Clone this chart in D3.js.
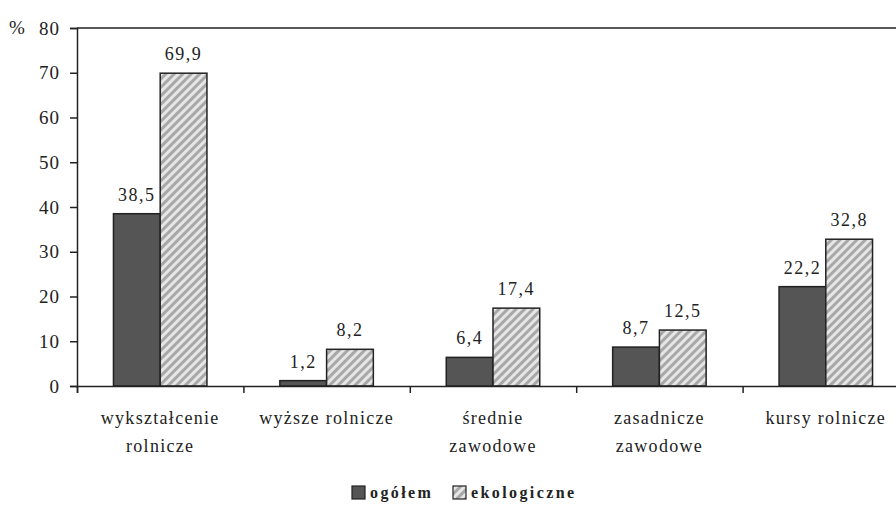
<!DOCTYPE html>
<html>
<head>
<meta charset="utf-8">
<script src="https://cdn.jsdelivr.net/npm/d3@7"></script>
<style>
  body { margin: 0; background: #fff; }
  svg { display: block; }
</style>
</head>
<body>
<svg id="chart"></svg>
<script>
const width = 896, height = 518;
const serif = "'Liberation Serif', 'DejaVu Serif', 'Times New Roman', Times, serif";

const categories = [
    ["wykształcenie", "rolnicze"],
    ["wyższe rolnicze"],
    ["średnie", "zawodowe"],
    ["zasadnicze", "zawodowe"],
    ["kursy rolnicze"]
];
const ogolem = [38.5, 1.2, 6.4, 8.7, 22.2];
const ekologiczne = [69.9, 8.2, 17.4, 12.5, 32.8];
const seriesNames = ["ogółem", "ekologiczne"];
const yTicks = [0, 10, 20, 30, 40, 50, 60, 70, 80];

const margin = {left: 77, top: 28, right: -13, bottom: 132};

const svg = d3.select("#chart")
    .attr("width", width)
    .attr("height", height)
    .style("font-family", serif);

const defs = svg.append("defs");
const pat = defs.append("pattern")
    .attr("id", "hatch")
    .attr("patternUnits", "userSpaceOnUse")
    .attr("width", 6).attr("height", 6)
    .attr("patternTransform", "rotate(45)");
pat.append("rect").attr("width", 6).attr("height", 6).attr("fill", "#e6e6e6");
pat.append("rect").attr("width", 3).attr("height", 6).attr("fill", "#a8a8a8");

const x = d3.scaleBand()
    .domain(d3.range(categories.length))
    .range([margin.left, width - margin.right]);

const inner = d3.scaleBand()
    .domain([0, 1])
    .range([0, x.bandwidth()])
    .paddingOuter(0.78)
    .paddingInner(0);

const y = d3.scaleLinear()
    .domain([0, 80])
    .range([height - margin.bottom, margin.top]);

// bars
const series = [ogolem, ekologiczne];
const fills = ["#555555", "url(#hatch)"];
series.forEach((vals, s) => {
    svg.append("g").selectAll("rect")
        .data(vals)
        .join("rect")
        .attr("x", (d, i) => x(i) + inner(s))
        .attr("y", d => y(d))
        .attr("width", inner.bandwidth())
        .attr("height", d => y(0) - y(d))
        .attr("fill", fills[s])
        .attr("stroke", "#222")
        .attr("stroke-width", 1.5);

    svg.append("g").selectAll("text")
        .data(vals)
        .join("text")
        .attr("x", (d, i) => x(i) + inner(s) + inner.bandwidth() / 2)
        .attr("y", d => y(d) - 13)
        .attr("text-anchor", "middle")
        .attr("font-family", serif)
        .attr("font-size", 18)
        .attr("letter-spacing", 1.5)
        .attr("fill", "#222")
        .text(d => d.toFixed(1).replace(".", ","));
});

// frame top
svg.append("line")
    .attr("x1", margin.left).attr("x2", width)
    .attr("y1", y(80)).attr("y2", y(80))
    .attr("stroke", "#222").attr("stroke-width", 1.5);

// y axis
svg.append("g")
    .attr("transform", `translate(${margin.left},0)`)
    .call(d3.axisLeft(y).tickValues(yTicks).tickSize(7).tickPadding(10))
    .attr("font-family", serif)
    .call(g => g.select(".domain").attr("stroke", "#222").attr("stroke-width", 1.5))
    .call(g => g.selectAll(".tick line").attr("stroke", "#222").attr("stroke-width", 1.5))
    .call(g => g.selectAll("text")
        .attr("font-family", serif)
        .attr("font-size", 19).attr("letter-spacing", 1).attr("fill", "#222"));

svg.append("text")
    .attr("x", 9).attr("y", y(80) + 6)
    .attr("font-family", serif)
    .attr("font-size", 19)
    .attr("fill", "#222")
    .text("%");

// x axis
const xBound = d3.scaleLinear()
    .domain([0, categories.length])
    .range([margin.left, width - margin.right]);
svg.append("g")
    .attr("transform", `translate(0,${y(0)})`)
    .call(d3.axisBottom(xBound).ticks(categories.length).tickSize(7).tickFormat(""))
    .call(g => g.select(".domain").attr("stroke", "#222").attr("stroke-width", 1.5))
    .call(g => g.selectAll(".tick line").attr("stroke", "#222").attr("stroke-width", 1.5));

const labels = svg.append("g").selectAll("text")
    .data(categories)
    .join("text")
    .attr("x", (d, i) => x(i) + x.bandwidth() / 2)
    .attr("y", y(0) + 38)
    .attr("text-anchor", "middle")
    .attr("font-family", serif)
    .attr("font-size", 18)
    .attr("letter-spacing", 1.3)
    .attr("fill", "#222");
labels.selectAll("tspan")
    .data(d => d)
    .join("tspan")
    .attr("x", function () { return this.parentNode.getAttribute("x"); })
    .attr("dy", (d, i) => i === 0 ? 0 : 28)
    .text(d => d);

// legend
const legend = svg.append("g").attr("transform", "translate(352,492)");
const legendX = [0, 101];
seriesNames.forEach((name, s) => {
    const g = legend.append("g").attr("transform", `translate(${legendX[s]},0)`);
    g.append("rect")
        .attr("x", 0).attr("y", -6)
        .attr("width", 13).attr("height", 13)
        .attr("fill", s === 0 ? "#555555" : "url(#hatch)")
        .attr("stroke", "#222").attr("stroke-width", 1.2);
    g.append("text")
        .attr("x", 18).attr("y", 6)
        .attr("font-family", serif)
        .attr("font-size", 16)
        .attr("font-weight", "bold")
        .attr("letter-spacing", 2.4)
        .attr("fill", "#222")
        .text(name);
});
</script>
</body>
</html>
